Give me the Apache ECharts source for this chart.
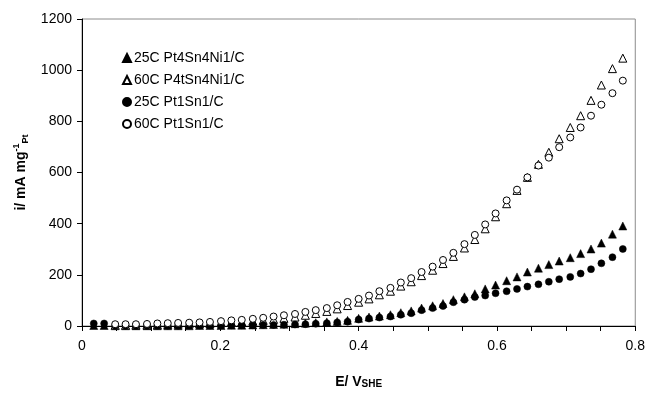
<!DOCTYPE html>
<html><head><meta charset="utf-8">
<script src="https://cdn.jsdelivr.net/npm/echarts@6/dist/echarts.min.js"></script>
<style>html,body{margin:0;padding:0;background:#fff}#c{width:648px;height:394px}</style>
</head><body><div id="c"></div>
<script>
const potentials = [0.017,0.032,0.048,0.063,0.078,0.094,0.109,0.124,0.139,0.155,0.170,0.185,0.201,0.216,0.231,0.247,0.262,0.277,0.292,0.308,0.323,0.338,0.354,0.369,0.384,0.400,0.415,0.430,0.446,0.461,0.476,0.491,0.507,0.522,0.537,0.553,0.568,0.583,0.598,0.614,0.629,0.644,0.660,0.675,0.690,0.706,0.721,0.736,0.751,0.767,0.782];
const pt4Sn4Ni1_25C = [2,2,1,1,1,1,1,1,1,1,2,2,2,3,3,4,5,6,7,9,11,13,16,18,22,30,35,39,44,52,59,70,79,88,103,114,126,145,160,177,192,211,226,240,254,267,283,301,324,359,391];
const pt4Sn4Ni1_60C = [null,null,3,3,4,4,5,6,7,8,9,10,12,14,16,19,22,26,30,35,42,49,57,67,80,93,106,122,136,156,173,197,218,244,272,305,338,380,427,478,530,581,632,679,732,776,822,882,942,1006,1047];
const pt1Sn1_25C = [10,10,1,1,1,1,1,1,1,2,2,2,2,3,3,3,4,4,5,6,7,9,11,14,17,25,29,33,37,44,50,62,70,78,93,103,113,119,128,136,145,154,163,173,183,192,205,222,245,269,301];
const pt1Sn1_60C = [null,null,7,7,7,8,10,11,12,13,14,16,19,22,24,28,32,37,42,47,55,62,70,81,94,106,119,136,149,170,187,211,232,258,286,320,356,397,440,491,533,581,627,658,699,737,776,822,865,910,959];
const seriesNames = ['25C Pt4Sn4Ni1/C','60C P4tSn4Ni1/C','25C Pt1Sn1/C','60C Pt1Sn1/C'];
const yTicks = {min:0, max:1200, step:200};
const xTicks = {min:0, max:0.8, step:0.05, labelStep:0.2};

function pairs(ys){ const out=[]; ys.forEach((y,i)=>{ if(y!==null) out.push([potentials[i],y]); }); return out; }
const FONT = "'Liberation Sans', Arial, sans-serif";
const chart = echarts.init(document.getElementById('c'), null, {renderer:'canvas'});
function mk(name, ys, symbol, size, filled){
  return {name, type:'scatter', data:pairs(ys), symbol, symbolSize:size,
    itemStyle: filled ? {color:'#000', borderColor:'#000', borderWidth:0.5, opacity:1}
                      : {color:'#fff', borderColor:'#000', borderWidth:1, opacity:1},
    emphasis:{disabled:true}, animation:false};
}
chart.setOption({
  backgroundColor:'#fff',
  animation:false,
  textStyle:{fontFamily:FONT},
  grid:{left:82, right:12, top:19, bottom:63, show:true, borderColor:'#8c8c8c', borderWidth:1, containLabel:false},
  legend:{orient:'vertical', left:117, top:46, itemWidth:8, itemHeight:8, itemGap:8,
    data:seriesNames, textStyle:{fontSize:14, color:'#000', fontFamily:FONT, padding:[0,0,0,-2]}, selectedMode:false},
  xAxis:{type:'value', min:xTicks.min, max:xTicks.max, interval:xTicks.step,
    axisLine:{lineStyle:{color:'#000', width:1}}, axisTick:{length:5, lineStyle:{color:'#000'}},
    splitLine:{show:false},
    axisLabel:{fontSize:14, color:'#000', margin:13, fontFamily:FONT,
      formatter:v=>{const k=v/xTicks.labelStep; return Math.abs(k-Math.round(k))<1e-6 ? String(+(+v).toFixed(1)) : '';}},
    name:'{b|E/ V}{s|SHE}', nameLocation:'middle', nameGap:45,
    nameTextStyle:{rich:{b:{fontSize:14, fontWeight:'bold', color:'#000', fontFamily:FONT, lineHeight:18, verticalAlign:'bottom'},
                         s:{fontSize:10, fontWeight:'bold', color:'#000', fontFamily:FONT, verticalAlign:'bottom', lineHeight:14}}}},
  yAxis:{type:'value', min:yTicks.min, max:yTicks.max, interval:yTicks.step,
    axisLine:{show:true, lineStyle:{color:'#000', width:1}}, axisTick:{show:true, length:5, lineStyle:{color:'#000'}},
    splitLine:{show:false},
    axisLabel:{fontSize:14, color:'#000', margin:10, fontFamily:FONT, formatter:v=>String(v)},
    name:'{b|i/ mA mg}{sup|-1}{s|Pt}', nameLocation:'middle', nameGap:50, nameRotate:90,
    nameTextStyle:{rich:{b:{fontSize:14, fontWeight:'bold', color:'#000', fontFamily:FONT, lineHeight:18},
                         sup:{fontSize:9, fontWeight:'bold', color:'#000', fontFamily:FONT, verticalAlign:'top', lineHeight:18},
                         s:{fontSize:9, fontWeight:'bold', color:'#000', fontFamily:FONT, verticalAlign:'bottom', lineHeight:12}}}},
  series:[
    mk(seriesNames[0], pt4Sn4Ni1_25C, 'triangle', 8, true),
    mk(seriesNames[1], pt4Sn4Ni1_60C, 'triangle', 8, false),
    mk(seriesNames[2], pt1Sn1_25C, 'circle', 7, true),
    mk(seriesNames[3], pt1Sn1_60C, 'circle', 7, false)
  ]
});
</script></body></html>
